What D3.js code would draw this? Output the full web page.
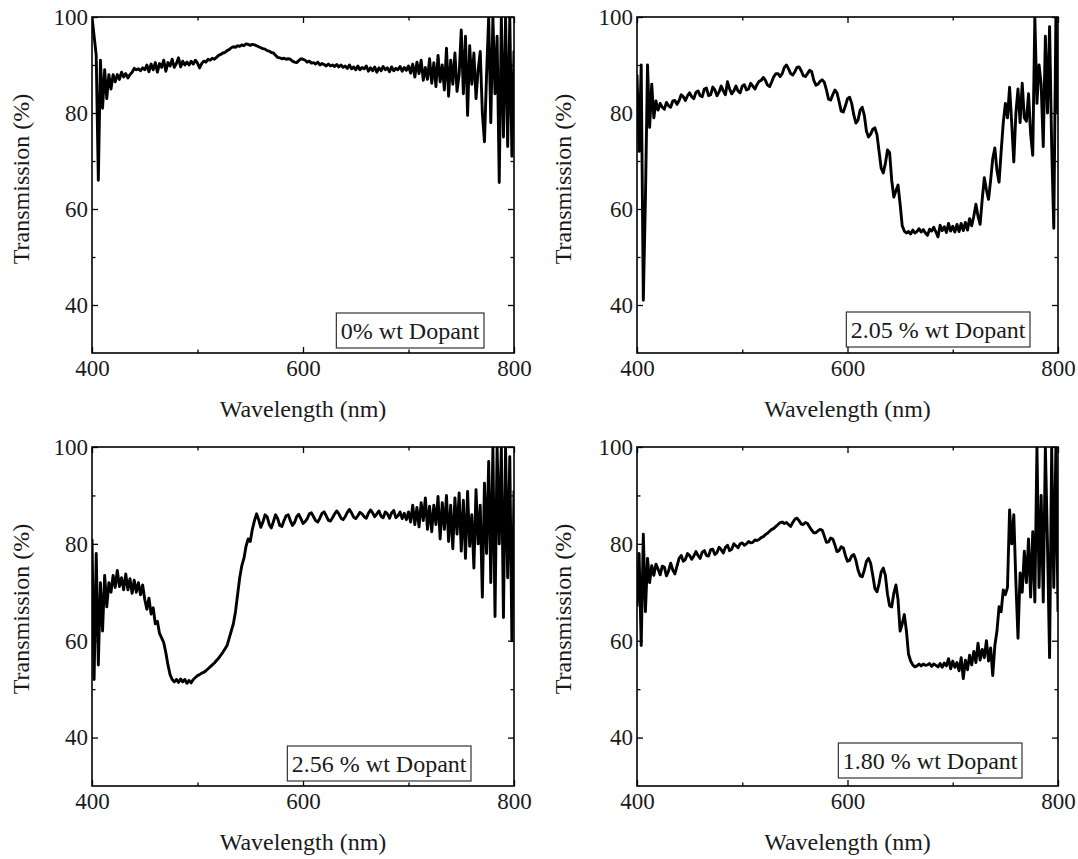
<!DOCTYPE html>
<html>
<head>
<meta charset="utf-8">
<script src="https://cdn.jsdelivr.net/npm/d3@7/dist/d3.min.js"></script>
<style>
  body { margin: 0; background: #fff; }
  text { font-family: "Liberation Serif", "Times New Roman", serif; fill: #1a1a1a; }
</style>
</head>
<body>
<div class="home"></div>
<script>
// Transmission spectra of four dopant levels, drawn as a 2x2 grid with d3

// Wavelength grid (nm), one sample every 2 nm
var wavelengths = [
  400, 402, 404, 406, 408, 410, 412, 414, 416, 418,
  420, 422, 424, 426, 428, 430, 432, 434, 436, 438,
  440, 442, 444, 446, 448, 450, 452, 454, 456, 458,
  460, 462, 464, 466, 468, 470, 472, 474, 476, 478,
  480, 482, 484, 486, 488, 490, 492, 494, 496, 498,
  500, 502, 504, 506, 508, 510, 512, 514, 516, 518,
  520, 522, 524, 526, 528, 530, 532, 534, 536, 538,
  540, 542, 544, 546, 548, 550, 552, 554, 556, 558,
  560, 562, 564, 566, 568, 570, 572, 574, 576, 578,
  580, 582, 584, 586, 588, 590, 592, 594, 596, 598,
  600, 602, 604, 606, 608, 610, 612, 614, 616, 618,
  620, 622, 624, 626, 628, 630, 632, 634, 636, 638,
  640, 642, 644, 646, 648, 650, 652, 654, 656, 658,
  660, 662, 664, 666, 668, 670, 672, 674, 676, 678,
  680, 682, 684, 686, 688, 690, 692, 694, 696, 698,
  700, 702, 704, 706, 708, 710, 712, 714, 716, 718,
  720, 722, 724, 726, 728, 730, 732, 734, 736, 738,
  740, 742, 744, 746, 748, 750, 752, 754, 756, 758,
  760, 762, 764, 766, 768, 770, 772, 774, 776, 778,
  780, 782, 784, 786, 788, 790, 792, 794, 796, 798,
  800
];

// Transmission (%) for 0% wt dopant
var trans0 = [
  100, 96, 92, 66, 91, 81, 89, 83, 88, 85,
  88, 86.5, 88, 87, 88.5, 87.5, 88.2, 87.3, 88, 88.5,
  89.3, 89, 89.2, 88.8, 89.4, 89, 90, 88.6, 90.2, 89,
  90.5, 88.5, 90.3, 89.5, 91, 88.7, 90.5, 89.8, 91.2, 89.5,
  90.3, 91.5, 89.6, 90.8, 90, 90.6, 90, 90.8, 90.2, 91,
  90.4, 89.4, 90.3, 90.8, 90.6, 91.2, 91, 91.4, 91.2, 91.6,
  92, 92.2, 92.5, 92.6, 93, 93.2, 93.6, 93.8, 93.7, 94,
  93.9, 94.2, 94, 94.4, 94.3, 94.1, 94.3, 94.2, 94, 93.8,
  93.6, 93.4, 93.3, 93, 92.9, 92.6, 92.5, 92, 91.6, 91.5,
  91.3, 91.4, 91.2, 91.3, 91.2, 90.8, 90.6, 90.5, 90.9, 91.3,
  91.2, 91, 90.6, 90.8, 90.4, 90.5, 90.2, 90.6, 90, 90.3,
  90.1, 89.8, 90.2, 89.8, 90, 89.7, 90.1, 89.6, 90, 89.5,
  89.8, 89.3, 90, 89.2, 89.6, 89, 89.8, 89, 89.5, 89.2,
  89.8, 88.7, 89.4, 88.8, 89.6, 88.5, 89.4, 88.8, 89.7, 89,
  89.4, 88.6, 89.6, 88.8, 89.3, 89, 89.7, 88.7, 89.5, 88.9,
  89.8, 88.3, 90.2, 87.5, 90.6, 88.2, 91, 86.8, 89.5, 87,
  91.3, 86.2, 90.5, 85.5, 92, 86.5, 90, 84.8, 93.5, 83.5,
  91, 86, 92.5, 84.5, 88, 97.3, 84, 96, 79.5, 94,
  86, 92.5, 83, 89, 92.8, 80, 74, 88, 100, 78,
  100, 84, 96, 65.5, 100, 75, 100, 73, 100, 71,
  93
];

// Transmission (%) for 2.05 % wt dopant
var trans1 = [
  88, 72, 90, 41, 62, 90, 77, 86, 79, 82.5,
  80.6, 82, 81.2, 80.8, 82.2, 81.5, 81.2, 82.5, 82.6, 81.8,
  82.6, 83.8, 83.4, 82.6, 83.6, 84.2, 83.4, 83, 84.3, 84.6,
  83.6, 83.4, 85, 85.2, 83.6, 83.8, 85.4, 84.8, 83.6, 84.4,
  85.6, 84.6, 83.8, 86.5, 85, 84, 84.6, 85.6, 84.6, 84.2,
  85.6, 85.9, 84.8, 85, 86.2, 85.6, 85, 85.9, 86.6, 86.8,
  87.4, 86.8, 85.8, 85.5, 86.5, 87.6, 88.2, 88.2, 87.6, 88.2,
  89.5, 90, 89.2, 88.2, 87.9, 88.6, 89.5, 89.6, 88.8, 87.8,
  87.6, 88.2, 88.9, 88.6, 86.8, 85.8, 86, 86.6, 86.9, 86.4,
  84.8, 82.9, 82.7, 83.8, 84.8, 84.2, 82.4, 80.4, 80.2, 81.5,
  83, 83.3, 82, 79.6, 77.9, 78.5, 80.6, 81.2, 79.5, 76.2,
  75, 75.6, 76.6, 76.9, 75.5, 72, 68.5, 67.5, 69.5, 72.3,
  71.8, 66, 62.5, 63.8, 65, 61, 56.5, 55.4, 55, 55.3,
  54.8, 55.6, 55, 55.3, 55.9, 55.2, 55.7, 55, 54.5, 55.8,
  55.4, 56.2, 55.2, 54.2, 56.6, 55.5, 56.3, 55.1, 57, 55.4,
  56.4, 55.2, 56.8, 55.3, 57, 55.5, 57.2, 55.6, 58, 56.5,
  58.5, 61, 58.5, 56.8, 62, 66.5, 64, 62, 66, 70.5,
  72.7, 68, 65.6, 72, 78, 82, 79, 85.4, 78, 69.8,
  80, 85, 78, 86.2, 79, 78.3, 84, 75.6, 71.2, 100,
  82, 90, 86, 73, 96, 80, 98, 73, 56, 100,
  80
];

// Transmission (%) for 2.56 % wt dopant
var trans2 = [
  81, 52, 78, 55, 72, 62, 73.5, 67, 72, 70,
  73.5, 71, 74.5, 71.2, 73, 70.5, 73.8, 70.5, 72.8, 69.8,
  72.5, 70, 72, 69.5, 71.5, 68.5, 66.5, 68.8, 65.5, 66.8,
  63.5, 64, 61.5, 60.6, 59.6, 57.5, 55, 53, 52, 51.5,
  52, 51.4, 52.1, 51.5, 52, 51.2, 51.8, 51.3, 52, 52.4,
  52.8, 53, 53.3, 53.5, 53.8, 54.2, 54.6, 55, 55.4, 55.9,
  56.4, 57, 57.6, 58.3, 59, 60.5, 62, 63.5, 66, 69.5,
  73, 75.5, 77, 79.5, 81, 80.5, 83, 84.8, 86.2, 85,
  83.4, 84.5, 86, 85.6, 84, 83.3, 84.6, 86, 85.2, 83.8,
  83.6, 84.8, 85.8, 86, 84.8, 83.8, 84.4, 85.6, 86.1, 85.2,
  84.2, 84.6, 85.2, 86.2, 86.4, 85.6, 84.8, 84.5, 85.3, 86.3,
  86.6, 85.8, 84.9, 84.7, 85.4, 86.2, 86.8, 86.2, 85.3, 85,
  85.6, 86.5, 87.1, 86.4, 85.5, 85.2, 85.8, 86.5, 86.2, 85.6,
  85.3, 86.3, 87, 86.4, 85.6, 86.2, 86.8, 85.7, 85.4, 86.6,
  86.2, 85.3, 86.4, 86.9, 85.4, 85.8, 86.6, 85.2, 86.3, 85,
  86.6, 84.5, 88, 84, 87.5, 83.5, 88.5, 84.8, 89.5, 83,
  87.8, 82.5, 88, 84, 89.8, 81, 88.5, 83, 90, 80.5,
  88, 79, 89.5, 82, 90.5, 78.5, 89, 77, 90.8, 79.5,
  86, 75, 91.2, 80, 88, 69, 92.5, 78, 97, 72,
  100, 65, 100, 80, 100, 64.8, 100, 73, 98, 60,
  91
];

// Transmission (%) for 1.80 % wt dopant
var trans3 = [
  67, 78, 59, 82, 66, 77, 72, 75.5, 73.5, 75.8,
  74.8, 73.6, 75.4, 75.2, 73.4, 74.4, 76, 74.6, 73.8, 75.4,
  77, 77.6, 76.4, 76.8, 78, 77.6, 76.8, 77.5, 78.4, 77.6,
  77, 78.3, 78.6, 77.6, 77.5, 78.8, 78.9, 77.8, 78.2, 79.3,
  78.8, 78.1, 79.3, 79.7, 78.6, 78.9, 80, 79.6, 79.2, 80,
  80.2, 79.7, 80, 80.5, 80.2, 80.3, 80.8, 80.7, 80.9, 81.3,
  81.5, 81.9, 82.2, 82.6, 83, 83.2, 83.6, 84, 84.4, 84.5,
  84.2, 84.4, 84, 83.6, 84.4, 85.1, 85.3, 84.8, 84.1, 84,
  84.4, 84.2, 83.5, 82.8, 82.3, 82.3, 82.7, 83, 82.8, 81.6,
  80.3, 80.4, 81.2, 81, 79.8, 78.4, 78.6, 79.4, 79.2, 77.6,
  76.4, 76.6, 77.5, 77.8, 76.6, 74.6, 73.4, 73.2, 74.6, 76.4,
  77, 76, 73.5, 70.8, 70.1, 71.8, 74.2, 75, 73.5, 69.6,
  67.2, 67, 69.8, 71.5, 68.5, 62, 63.5, 65.4, 62, 57.2,
  55.8, 55, 54.6, 54.8, 55.2, 54.8, 55.2, 54.9, 55, 55.3,
  54.7, 55.2, 54.9, 54.6, 55.3, 54.5, 55.4, 54.8, 56.3, 54.2,
  55.8, 54.5, 55.5, 53.8, 56.5, 52.2, 56, 54, 57, 55,
  57.8, 55.5, 59.5, 56, 58.2, 56.5, 60, 55.8, 58.5, 52.8,
  59, 62, 67, 66, 70.5, 69.5, 71, 87, 80, 86,
  72, 60.5, 74, 70, 78.5, 72, 81, 69, 82.5, 68,
  100, 71, 90, 68, 100, 80, 56.5, 100, 71, 100,
  66
];

// Legend labels and axis ticks
var legendLabels = ["0% wt Dopant", "2.05 % wt Dopant", "2.56 % wt Dopant", "1.80 % wt Dopant"];
var xMajorTicks = [400, 600, 800];
var xMinorTicks = [500, 700];
var yMajorTicks = [40, 60, 80, 100];
var yMinorTicks = [50, 70, 90];
var xTitle = "Wavelength (nm)";
var yTitle = "Transmission (%)";

// Size of the whole picture
var width = 1078,
    height = 859;

// Where each panel sits on the page (plot frame, legend box corner, y title position)
var panels = [
  { left: 92,  right: 514,  top: 17,  bottom: 353, values: trans0, label: legendLabels[0], boxRight: 484,  boxBottom: 348, titleX: 29 },
  { left: 637, right: 1058, top: 17,  bottom: 353, values: trans1, label: legendLabels[1], boxRight: 1030, boxBottom: 347, titleX: 571 },
  { left: 92,  right: 514,  top: 447, bottom: 786, values: trans2, label: legendLabels[2], boxRight: 471,  boxBottom: 781, titleX: 29 },
  { left: 637, right: 1058, top: 447, bottom: 786, values: trans3, label: legendLabels[3], boxRight: 1022, boxBottom: 778, titleX: 571 }
];

var svg = d3.select(".home").append("svg")
    .attr("width", width)
    .attr("height", height);

// Draw one panel
function drawPanel(p, k) {
    var x = d3.scaleLinear().domain([400, 800]).range([p.left, p.right]);
    var y = d3.scaleLinear().domain([30, 100]).range([p.bottom, p.top]);
    var g = svg.append("g");

    // clip so the spikes stop at the frame
    g.append("clipPath").attr("id", "clip" + k)
        .append("rect")
        .attr("x", p.left).attr("y", p.top)
        .attr("width", p.right - p.left).attr("height", p.bottom - p.top);

    var line = d3.line()
        .x(function (d, i) { return x(wavelengths[i]); })
        .y(function (d) { return y(d); });

    g.append("path")
        .datum(p.values)
        .attr("clip-path", "url(#clip" + k + ")")
        .attr("d", line)
        .attr("fill", "none")
        .attr("stroke", "#000")
        .attr("stroke-width", 2.9)
        .attr("stroke-linejoin", "round");

    // ticks point inwards on all four sides
    function addAxis(axis, tx, ty) {
        var a = g.append("g").attr("transform", "translate(" + tx + "," + ty + ")").call(axis);
        a.select(".domain").remove();
        a.selectAll("line").attr("stroke", "#000").attr("stroke-width", 1.3);
        a.selectAll("text").style("font-size", "23px").attr("fill", "#1a1a1a")
            .style("font-family", "'Liberation Serif', 'Times New Roman', serif");
        return a;
    }
    addAxis(d3.axisBottom(x).tickValues(xMajorTicks).tickSize(-6).tickPadding(7).tickFormat(d3.format("d")), 0, p.bottom);
    addAxis(d3.axisBottom(x).tickValues(xMinorTicks).tickSize(-3.5).tickFormat(""), 0, p.bottom);
    addAxis(d3.axisTop(x).tickValues(xMajorTicks).tickSize(-6).tickFormat(""), 0, p.top);
    addAxis(d3.axisTop(x).tickValues(xMinorTicks).tickSize(-3.5).tickFormat(""), 0, p.top);
    addAxis(d3.axisLeft(y).tickValues(yMajorTicks).tickSize(-6).tickPadding(4).tickFormat(d3.format("d")), p.left, 0);
    addAxis(d3.axisLeft(y).tickValues(yMinorTicks).tickSize(-3.5).tickFormat(""), p.left, 0);
    addAxis(d3.axisRight(y).tickValues(yMajorTicks).tickSize(-6).tickFormat(""), p.right, 0);
    addAxis(d3.axisRight(y).tickValues(yMinorTicks).tickSize(-3.5).tickFormat(""), p.right, 0);

    // frame
    g.append("rect")
        .attr("x", p.left).attr("y", p.top)
        .attr("width", p.right - p.left).attr("height", p.bottom - p.top)
        .attr("fill", "none").attr("stroke", "#000").attr("stroke-width", 1.6);

    // axis titles
    g.append("text")
        .attr("x", (p.left + p.right) / 2)
        .attr("y", p.bottom + 64)
        .attr("text-anchor", "middle")
        .style("font-size", "24px")
        .text(xTitle);

    g.append("text")
        .attr("transform", "translate(" + p.titleX + "," + (p.top + 162) + ") rotate(-90)")
        .attr("text-anchor", "middle")
        .style("font-size", "24px")
        .text(yTitle);

    // legend box, sized from the text
    var legend = g.append("g");
    var box = legend.append("rect");
    var label = legend.append("text")
        .style("font-size", "24px")
        .attr("text-anchor", "middle")
        .text(p.label);
    var tw = label.node().getComputedTextLength();
    var bw = tw + 9, bh = 35;
    box.attr("x", p.boxRight - bw).attr("y", p.boxBottom - bh)
        .attr("width", bw).attr("height", bh)
        .attr("fill", "#fff").attr("stroke", "#333").attr("stroke-width", 1.2);
    label.attr("x", p.boxRight - bw / 2).attr("y", p.boxBottom - bh / 2 + 8);
}

panels.forEach(drawPanel);
</script>
</body>
</html>
